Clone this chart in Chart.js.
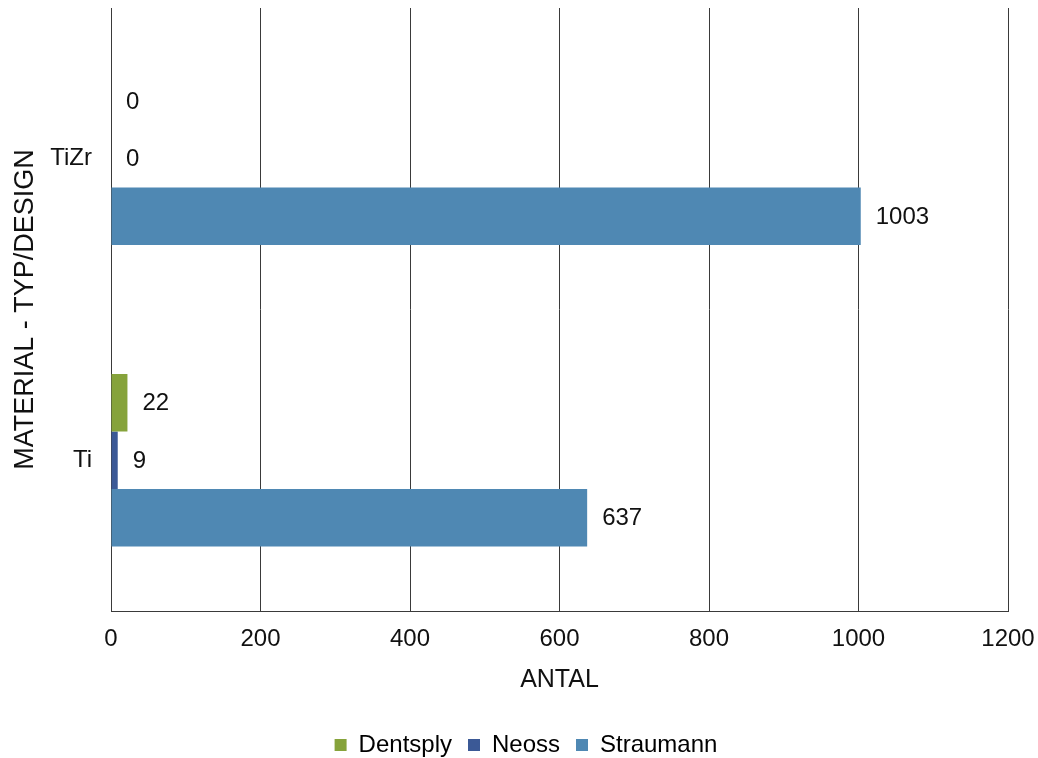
<!DOCTYPE html>
<html>
<head>
<meta charset="utf-8">
<script src="https://cdn.jsdelivr.net/npm/chart.js@4.4.0/dist/chart.umd.min.js"></script>
<style>
  html, body { margin: 0; padding: 0; background: #ffffff; }
  #wrap { width: 1038px; height: 758px; position: relative; }
</style>
</head>
<body>
<div id="wrap"><canvas id="c" width="1038" height="758"></canvas></div>
<script>
const categories = ['TiZr', 'Ti'];
const seriesNames = ['Dentsply', 'Neoss', 'Straumann'];
const dentsply = [0, 22];
const neoss = [0, 9];
const straumann = [1003, 637];
const xTicks = [0, 200, 400, 600, 800, 1000, 1200];
const colors = ['#86A33B', '#3B5996', '#4F88B3'];

const FONT = '"Liberation Sans", Arial, sans-serif';

const valueLabels = {
  id: 'valueLabels',
  afterDatasetsDraw(chart) {
    const ctx = chart.ctx;
    ctx.save();
    ctx.font = '24px ' + FONT;
    ctx.fillStyle = '#111111';
    ctx.textAlign = 'left';
    ctx.textBaseline = 'middle';
    chart.data.datasets.forEach((ds, di) => {
      const meta = chart.getDatasetMeta(di);
      meta.data.forEach((el, i) => {
        ctx.fillText(String(ds.data[i]), el.x + 15, el.y + 1);
      });
    });
    ctx.restore();
  }
};

const legendShift = {
  id: 'legendShift',
  afterLayout(chart) {
    const l = chart.legend;
    if (!l) return;
    const dx = 22, dy = 22;
    l.left += dx; l.right += dx;
    l.top += dy; l.bottom += dy;
  }
};

function noEdgePadding(scale) {
  scale.paddingTop = 0;
  scale.paddingBottom = 0;
  scale.paddingLeft = 0;
  scale.paddingRight = 0;
}

const datasetsArr = [dentsply, neoss, straumann].map((d, i) => ({
  label: seriesNames[i],
  data: d,
  backgroundColor: colors[i],
  borderWidth: 0,
  categoryPercentage: 0.572,
  barPercentage: 1.0
}));

new Chart(document.getElementById('c'), {
  type: 'bar',
  data: { labels: categories, datasets: datasetsArr },
  options: {
    indexAxis: 'y',
    responsive: false,
    animation: false,
    devicePixelRatio: 1,
    layout: { padding: { top: 8, right: 30, bottom: 13, left: 0 } },
    plugins: {
      legend: {
        display: true,
        position: 'bottom',
        labels: {
          boxWidth: 12,
          boxHeight: 12,
          padding: 16,
          color: '#000000',
          font: { family: FONT, size: 24 }
        }
      },
      tooltip: { enabled: false }
    },
    scales: {
      x: {
        type: 'linear',
        min: 0,
        max: 1200,
        afterBuildTicks(scale) { scale.ticks = xTicks.map(v => ({ value: v })); },
        afterFit(scale) { scale.height = 84; noEdgePadding(scale); },
        grid: { display: true, color: '#3a3a3a', lineWidth: 1, drawTicks: false },
        border: { display: true, color: '#3a3a3a', width: 1 },
        ticks: {
          padding: 14,
          color: '#111111',
          font: { family: FONT, size: 24 },
          callback: (v) => String(v)
        },
        title: {
          display: true,
          text: 'ANTAL',
          color: '#111111',
          font: { family: FONT, size: 25 },
          padding: { top: 0, bottom: 0 }
        }
      },
      y: {
        afterFit(scale) { scale.width = 111; noEdgePadding(scale); },
        grid: { display: false, drawTicks: false },
        border: { display: true, color: '#3a3a3a', width: 1 },
        ticks: { padding: 19, color: '#111111', font: { family: FONT, size: 24 } },
        title: {
          display: true,
          text: 'MATERIAL - TYP/DESIGN',
          color: '#111111',
          font: { family: FONT, size: 27 },
          padding: { top: 9, bottom: 0 }
        }
      }
    }
  },
  plugins: [valueLabels, legendShift]
});
</script>
</body>
</html>
